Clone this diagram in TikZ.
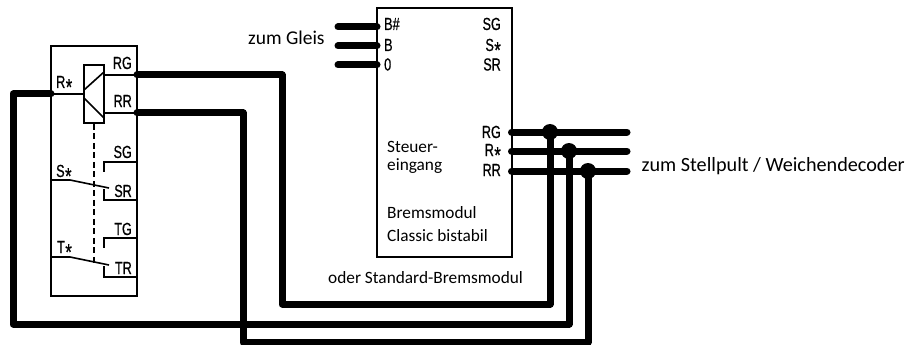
\documentclass[tikz,border=0pt]{standalone}
\usepackage{fontspec}
\setmainfont{Carlito}
\newfontfamily\pinfont[FakeStretch=0.72,FakeBold=0.6]{Liberation Sans}
\newcommand{\st}{\hspace{0.5pt}\smash{\raisebox{-7pt}{\fontsize{23}{23}\selectfont *}}}
\tikzset{
  pin/.style={font=\pinfont\fontsize{17.5}{18}\selectfont,inner sep=0pt,anchor=base west},
  pinr/.style={font=\pinfont\fontsize{17.5}{18}\selectfont,inner sep=0pt,anchor=base east},
  lab/.style={font=\fontsize{17.3}{20}\selectfont,inner sep=0pt,anchor=base west},
  thin wire/.style={line width=1.6pt},
  thick wire/.style={line width=7pt,line join=round,line cap=round},
  module/.style={draw,line width=1.8pt,inner sep=0pt,fill=none},
  dot/.style={circle,fill=black,inner sep=0pt,minimum size=16pt}
}
\begin{document}
\begin{tikzpicture}[x=1pt,y=-1pt]
\useasboundingbox (0,0) rectangle (922,345);
% relay module
\node[module,minimum width=86pt,minimum height=250pt] (relbox) at (94,171) {};
\node[module,minimum width=20pt,minimum height=58pt] (coil) at (94,94) {};
\coordinate (rg) at (137,75);
\coordinate (rr) at (137,113);
\coordinate (rs) at (51,94);
\coordinate (coilrg) at (104,75);
\coordinate (coilrr) at (104,113);
\coordinate (coilr) at (84,94);
\coordinate (diagat) at (84,90);
\coordinate (diagae) at (104,72);
\coordinate (diagbt) at (84,98);
\coordinate (diagbe) at (104,118);
\draw[thin wire] (coilrg) -- (rg);
\draw[thin wire] (coilrr) -- (rr);
\draw[thin wire] (rs) -- (coilr);
\draw[thin wire] (diagat) -- (diagae);
\draw[thin wire] (diagbt) -- (diagbe);
\node[pinr] (lrg) at (132,69) {RG};
\node[pinr] (lrr) at (132,107) {RR};
\node[pin] (lrs) at (56,88) {R\st};
% contacts
\coordinate (ss) at (51,180);
\coordinate (sk) at (70,180);
\coordinate (se) at (109,188);
\coordinate (sg) at (137,162);
\coordinate (sga) at (104,162);
\coordinate (sgb) at (104,172);
\coordinate (sr) at (137,200);
\coordinate (sra) at (104,200);
\coordinate (srb) at (104,189);
\coordinate (ts) at (51,257);
\coordinate (tk) at (70,257);
\coordinate (te) at (109,265);
\coordinate (tg) at (137,238);
\coordinate (tga) at (104,238);
\coordinate (tgb) at (104,248);
\coordinate (tr) at (137,277);
\coordinate (tra) at (104,277);
\coordinate (trb) at (104,266);
\coordinate (dashe) at (94,263);
\draw[thin wire] (ss) -- (sk) -- (se);
\draw[thin wire] (sg) -- (sga) -- (sgb);
\draw[thin wire] (sr) -- (sra) -- (srb);
\draw[thin wire] (ts) -- (tk) -- (te);
\draw[thin wire] (tg) -- (tga) -- (tgb);
\draw[thin wire] (tr) -- (tra) -- (trb);
\draw[thin wire,dash pattern=on 6pt off 3.5pt] (coil.south) -- (dashe);
\node[pinr] (lsg) at (132,158) {SG};
\node[pinr] (lsr) at (132,197) {SR};
\node[pinr] (ltg) at (132,235) {TG};
\node[pinr] (ltr) at (132,274) {TR};
\node[pin] (lss) at (56,177) {S\st};
\node[pin] (lts) at (57,253) {T\st};
% brake module
\node[module,minimum width=135pt,minimum height=249pt] (brems) at (444.5,132.5) {};
\coordinate (bh) at (377,27);
\coordinate (bb) at (377,46);
\coordinate (b0) at (377,65);
\coordinate (bhe) at (338,27);
\coordinate (bbe) at (338,46);
\coordinate (b0e) at (338,65);
\draw[thick wire] (bhe) -- (bh);
\draw[thick wire] (bbe) -- (bb);
\draw[thick wire] (b0e) -- (b0);
\node[pin] (lbh) at (384,30) {B\#};
\node[pin] (lbb) at (384,51) {B};
\node[pin] (lb0) at (384,70.5) {0};
\node[pinr] (lsg2) at (501,30) {SG};
\node[pinr] (lss2) at (501,51) {S\st};
\node[pinr] (lsr2) at (501,70.5) {SR};
\node[pinr] (lrg2) at (501,138) {RG};
\node[pinr] (lrs2) at (501,156) {R\st};
\node[pinr] (lrr2) at (501,176) {RR};
\node[lab] (steu) at (387,152) {Steuer-};
\node[lab] (eing) at (387,170) {eingang};
\node[lab] (bm) at (387,218) {Bremsmodul};
\node[lab] (cb) at (387,241) {Classic bistabil};
\node[lab] (oder) at (328,283) {oder Standard-Bremsmodul};
\node[lab,font=\fontsize{19.5}{22}\selectfont] (gleis) at (248,45) {zum Gleis};
\node[lab,font=\fontsize{20.2}{24}\selectfont] (stell) at (641.5,171) {zum Stellpult / Weichendecoder};
% bus
\coordinate (o1) at (511.5,132);
\coordinate (o2) at (511.5,151);
\coordinate (o3) at (511.5,171);
\coordinate (e1) at (627,132);
\coordinate (e2) at (627,151);
\coordinate (e3) at (627,171);
\draw[thick wire] (o1) -- (e1);
\draw[thick wire] (o2) -- (e2);
\draw[thick wire] (o3) -- (e3);
\node[dot] (d1) at (550,132) {};
\node[dot] (d2) at (569,151) {};
\node[dot] (d3) at (588,171) {};
% long wires
\coordinate (a1) at (282,75);
\coordinate (a2) at (282,304);
\coordinate (a3) at (550,304);
\coordinate (b1) at (13,94);
\coordinate (b2) at (13,324);
\coordinate (b3) at (569,324);
\coordinate (c1) at (243,113);
\coordinate (c2) at (243,342);
\coordinate (c3) at (588,342);
\draw[thick wire] (rg) -- (a1) -- (a2) -- (a3) -- (d1.center);
\draw[thick wire] (rs) -- (b1) -- (b2) -- (b3) -- (d2.center);
\draw[thick wire] (rr) -- (c1) -- (c2) -- (c3) -- (d3.center);
\end{tikzpicture}
\end{document}
